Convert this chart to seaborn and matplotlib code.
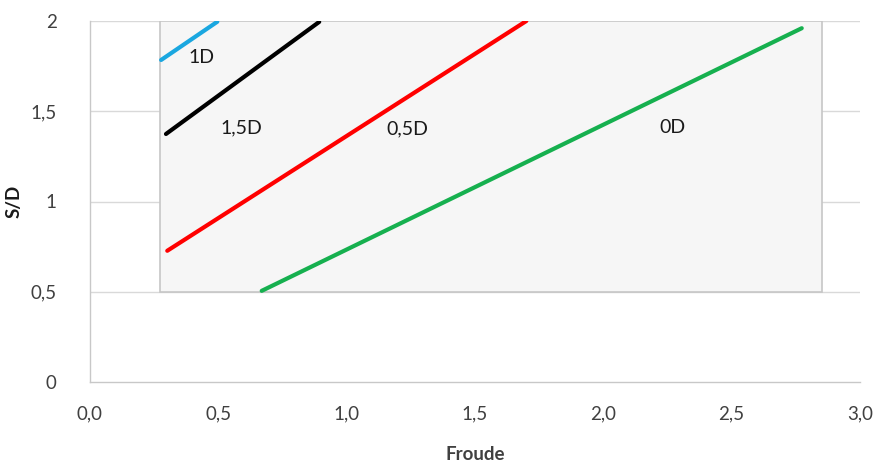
import matplotlib
matplotlib.use("Agg")
import matplotlib.pyplot as plt
import matplotlib.patches as mpatches
import pandas as pd
import seaborn as sns

# Limit curves: Froude number vs. spacing ratio S/D for each offset
series_names = ["1D", "1,5D", "0,5D", "0D"]
froude_1d = [0.277, 0.496]
sd_1d = [1.784, 1.996]
froude_15d = [0.296, 0.893]
sd_15d = [1.374, 1.995]
froude_05d = [0.301, 1.70]
sd_05d = [0.727, 2.0]
froude_0d = [0.669, 2.773]
sd_0d = [0.505, 1.96]
colors = ["#1aa7e0", "#000000", "#ff0000", "#16b04f"]

# Label anchor positions (data coordinates)
label_x = [0.435, 0.59, 1.235, 2.27]
label_y = [1.80, 1.41, 1.40, 1.41]

# Shaded region of validity
region_x = [0.273, 2.852]
region_y = [0.5, 2.0]

x_ticks = [0.0, 0.5, 1.0, 1.5, 2.0, 2.5, 3.0]
x_ticklabels = ["0,0", "0,5", "1,0", "1,5", "2,0", "2,5", "3,0"]
y_ticks = [0, 0.5, 1, 1.5, 2]
y_ticklabels = ["0", "0,5", "1", "1,5", "2"]

frames = []
for name, xs, ys in zip(series_names,
                        [froude_1d, froude_15d, froude_05d, froude_0d],
                        [sd_1d, sd_15d, sd_05d, sd_0d]):
    frames.append(pd.DataFrame({"Froude": xs, "S/D": ys, "serie": name}))
df = pd.concat(frames, ignore_index=True)

sns.set_theme(style="white")
plt.rcParams["font.family"] = ["Lato", "DejaVu Sans"]

fig = plt.figure(figsize=(8.79, 4.66), dpi=100)
ax = fig.add_axes([90 / 879, 1 - 382 / 466, 770 / 879, 361 / 466])

ax.add_patch(mpatches.Rectangle((region_x[0], region_y[0]),
                                region_x[1] - region_x[0],
                                region_y[1] - region_y[0],
                                facecolor="#f6f6f6", edgecolor="#c6c6c6",
                                linewidth=1.2, zorder=1))

for yv in y_ticks[1:]:
    ax.axhline(yv, color="#d9d9d9", linewidth=1.0, zorder=0.5)

sns.lineplot(data=df, x="Froude", y="S/D", hue="serie",
             hue_order=series_names, palette=colors, linewidth=3.0,
             legend=False, ax=ax, zorder=3, estimator=None, sort=False)

for name, lx, ly in zip(series_names, label_x, label_y):
    ax.text(lx, ly, name, fontsize=14, color="#1a1a1a",
            ha="center", va="center", zorder=4)

ax.set_xlim(0, 3.0)
ax.set_ylim(0, 2.0)
ax.set_xticks(x_ticks)
ax.set_xticklabels(x_ticklabels)
ax.set_yticks(y_ticks)
ax.set_yticklabels(y_ticklabels)
ax.tick_params(axis="both", length=0, labelsize=13.5, colors="#404040")
ax.tick_params(axis="x", pad=17)
ax.tick_params(axis="y", pad=24)

for side in ["top", "right"]:
    ax.spines[side].set_visible(False)
for side in ["left", "bottom"]:
    ax.spines[side].set_color("#c8c8c8")
    ax.spines[side].set_linewidth(1.0)

ax.set_xlabel("Froude", fontsize=13.5, fontweight="bold", color="#404040")
ax.set_ylabel("S/D", fontsize=13.5, fontweight="bold", color="#1a1a1a")
ax.xaxis.set_label_coords(0.5, -0.178)
ax.yaxis.set_label_coords(-0.088, 0.5)

fig.savefig("out.png", dpi=100, facecolor="white")
